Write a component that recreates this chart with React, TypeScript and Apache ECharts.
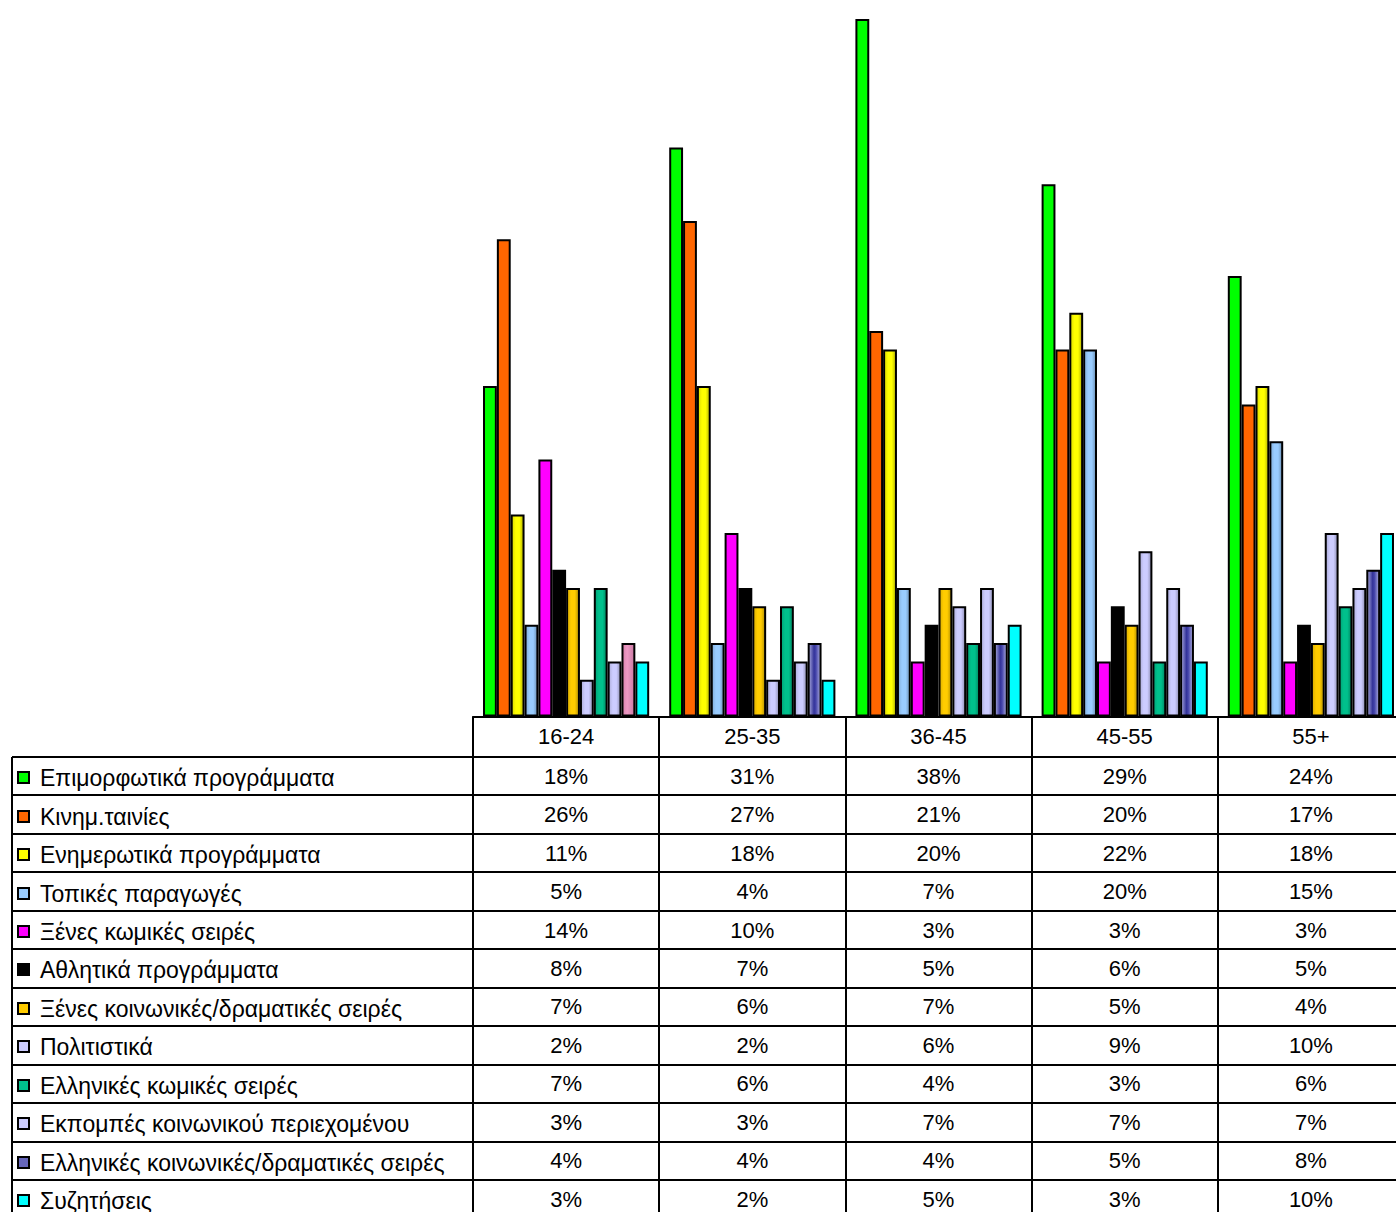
import React, { useEffect, useRef } from "react";
import * as echarts from "echarts";

const categories = ["16-24", "25-35", "36-45", "45-55", "55+"];

const seriesNames = [
  "Επιμορφωτικά προγράμματα",
  "Κινημ.ταινίες",
  "Ενημερωτικά προγράμματα",
  "Τοπικές παραγωγές",
  "Ξένες κωμικές σειρές",
  "Αθλητικά προγράμματα",
  "Ξένες κοινωνικές/δραματικές σειρές",
  "Πολιτιστικά",
  "Ελληνικές κωμικές σειρές",
  "Εκπομπές κοινωνικού περιεχομένου",
  "Ελληνικές κοινωνικές/δραματικές σειρές",
  "Συζητήσεις",
];

const epimorfotika = [18, 31, 38, 29, 24];
const kinimTainies = [26, 27, 21, 20, 17];
const enimerotika = [11, 18, 20, 22, 18];
const topikes = [5, 4, 7, 20, 15];
const xenesKomikes = [14, 10, 3, 3, 3];
const athlitika = [8, 7, 5, 6, 5];
const xenesKoinonikes = [7, 6, 7, 5, 4];
const politistika = [2, 2, 6, 9, 10];
const ellinikesKomikes = [7, 6, 4, 3, 6];
const ekpompes = [3, 3, 7, 7, 7];
const ellinikesKoinonikes = [4, 4, 4, 5, 8];
const syzitiseis = [3, 2, 5, 3, 10];

const seriesValues = [
  epimorfotika,
  kinimTainies,
  enimerotika,
  topikes,
  xenesKomikes,
  athlitika,
  xenesKoinonikes,
  politistika,
  ellinikesKomikes,
  ekpompes,
  ellinikesKoinonikes,
  syzitiseis,
];

const colors = [
  "#00ff00",
  "#ff6600",
  "#ffff00",
  "#99ccff",
  "#ff00ff",
  "#000000",
  "#ffcc00",
  "#ccccff",
  "#00c08c",
  "#ccccff",
  "#6666bb",
  "#00ffff",
];
const shaded = [false, false, true, true, false, false, true, true, true, true, true, false];
const specialColor = "#ee99c4"; // 16-24 Ελληνικές κοινωνικές

const FONT = "'Liberation Sans', Arial, sans-serif";
const VIEW_W = 1396;
const W = 1420;
const H = 1212;
const GRID_LEFT = 473;
const CAT_W = 186.2;
const AXIS_Y = 716.5;
const TOP = 19;
const TABLE_TOP = 757;
const ROW_H = 38.45;
const TABLE_LEFT = 12;

function darken(hex: string, f: number) {
  const n = parseInt(hex.slice(1), 16);
  const r = Math.round(((n >> 16) & 255) * f);
  const g = Math.round(((n >> 8) & 255) * f);
  const b = Math.round((n & 255) * f);
  return `rgb(${r},${g},${b})`;
}

function fillFor(color: string, shade: boolean, purple: boolean) {
  if (purple) {
    return new echarts.graphic.LinearGradient(0, 0, 1, 0, [
      { offset: 0, color: "#aaaadd" },
      { offset: 0.45, color: "#333399" },
      { offset: 0.6, color: "#4444aa" },
      { offset: 1, color: "#b0b0e0" },
    ]);
  }
  if (!shade) return color;
  return new echarts.graphic.LinearGradient(0, 0, 1, 0, [
    { offset: 0, color: darken(color, 0.85) },
    { offset: 0.35, color: color },
    { offset: 0.65, color: color },
    { offset: 1, color: darken(color, 0.7) },
  ]);
}

export default function App() {
  const ref = useRef<HTMLDivElement>(null);

  useEffect(() => {
    if (!ref.current) return;
    const chart = echarts.init(ref.current, undefined, { renderer: "svg" });

    const series = seriesValues.map((vals, i) => ({
      name: seriesNames[i],
      type: "bar",
      barGap: "0%",
      barCategoryGap: "10.75%",
      data: vals.map((v, j) => {
        if (i === 10 && j === 0) {
          return {
            value: v,
            itemStyle: {
              color: new echarts.graphic.LinearGradient(0, 0, 1, 0, [
                { offset: 0, color: "#d983ad" },
                { offset: 0.4, color: specialColor },
                { offset: 1, color: "#c87aa3" },
              ]),
            },
          };
        }
        return v;
      }),
      itemStyle: {
        color: fillFor(colors[i], shaded[i], i === 10),
        borderColor: "#000",
        borderWidth: 2,
      },
    }));

    const graphics: any[] = [];
    for (let r = 0; r <= seriesNames.length; r++) {
      const y = Math.round(TABLE_TOP + r * ROW_H);
      if (y > H) break;
      graphics.push({
        type: "line",
        shape: { x1: TABLE_LEFT, y1: y, x2: W, y2: y },
        style: { stroke: "#000", lineWidth: 2 },
        silent: true,
      });
    }
    graphics.push({
      type: "line",
      shape: { x1: TABLE_LEFT, y1: TABLE_TOP, x2: TABLE_LEFT, y2: H },
      style: { stroke: "#000", lineWidth: 2 },
      silent: true,
    });
    seriesNames.forEach((name, i) => {
      const cy = TABLE_TOP + ROW_H * (i + 0.5);
      graphics.push({
        type: "rect",
        shape: { x: 18, y: Math.round(cy - 4), width: 11, height: 11 },
        style: { fill: colors[i], stroke: "#000", lineWidth: 2 },
        silent: true,
      });
      graphics.push({
        type: "text",
        x: 40,
        y: cy + 2,
        style: {
          text: name,
          font: `23px ${FONT}`,
          fill: "#000",
          verticalAlign: "middle",
          align: "left",
        },
        silent: true,
      });
      seriesValues[i].forEach((v, j) => {
        graphics.push({
          type: "text",
          x: GRID_LEFT + CAT_W * (j + 0.5),
          y: cy,
          style: {
            text: `${v}%`,
            font: `22px ${FONT}`,
            fill: "#000",
            verticalAlign: "middle",
            align: "center",
          },
          silent: true,
        });
      });
    });

    chart.setOption({
      animation: false,
      backgroundColor: "#fff",
      grid: {
        left: GRID_LEFT,
        right: W - (GRID_LEFT + CAT_W * categories.length),
        top: TOP,
        bottom: H - AXIS_Y,
        containLabel: false,
      },
      xAxis: {
        type: "category",
        data: categories,
        boundaryGap: true,
        axisLine: { show: true, lineStyle: { color: "#000", width: 2 } },
        axisTick: {
          show: true,
          length: 500,
          lineStyle: { color: "#000", width: 2 },
        },
        axisLabel: {
          show: true,
          color: "#000",
          fontSize: 22,
          fontFamily: FONT,
          margin: 9,
        },
        splitLine: { show: false },
      },
      yAxis: {
        type: "value",
        min: 0,
        max: 38,
        show: false,
        splitLine: { show: false },
      },
      series,
      graphic: { elements: graphics },
    });

    return () => {
      chart.dispose();
    };
  }, []);

  return (
    <div
      style={{
        position: "absolute",
        left: 0,
        top: 0,
        width: VIEW_W,
        height: H,
        overflow: "hidden",
      }}
    >
      <div ref={ref} style={{ width: W, height: H }} />
    </div>
  );
}
